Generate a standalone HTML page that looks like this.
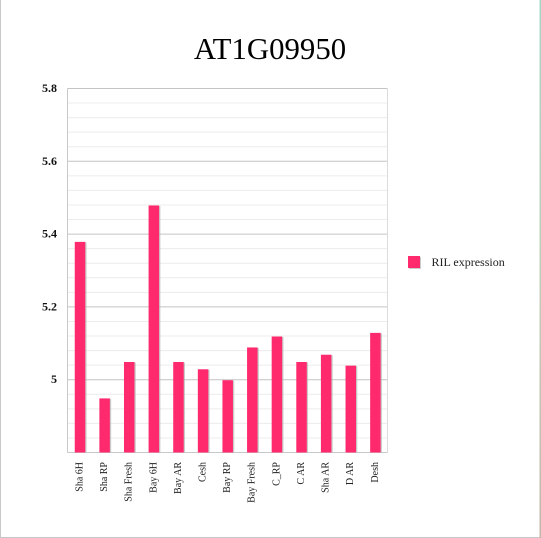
<!DOCTYPE html>
<html>
<head>
<meta charset="utf-8">
<style>
html,body{margin:0;padding:0;background:#fff;}
body{width:541px;height:538px;overflow:hidden;position:relative;}
svg{display:block;position:absolute;left:0;top:0;}
text{font-family:"Liberation Serif",serif;}
</style>
</head>
<body>
<svg id="chart" width="541" height="538" viewBox="0 0 541 538" xmlns="http://www.w3.org/2000/svg">
<defs>
<linearGradient id="edge" x1="0" y1="0" x2="0" y2="1">
<stop offset="0" stop-color="#a5d8c8"/>
<stop offset="0.5" stop-color="#c0d0b8"/>
<stop offset="1" stop-color="#c0b8a8"/>
</linearGradient>
</defs>
<rect x="0" y="0" width="541" height="538" fill="#fff"/>
<rect x="0" y="0" width="1" height="538" fill="#c8c8c8"/>
<rect x="0" y="537" width="540" height="1" fill="#c8c8c8"/>
<rect x="539.5" y="0" width="1.5" height="538" fill="url(#edge)"/>
<text x="270" y="59" font-size="30.8" text-anchor="middle" fill="#000">AT1G09950</text>
<g id="grid"></g>
<g id="bars"></g>
<g id="yticks"></g>
<g id="xticks"></g>
<rect x="409" y="257" width="12" height="12" fill="#bdbdbd" opacity="0.8"/>
<rect x="408" y="256" width="12" height="12" fill="#ff2a6d"/>
<text x="431.5" y="266" font-size="12" fill="#222">RIL expression</text>
</svg>
<script>
const categories = ["Sha 6H","Sha RP","Sha Fresh","Bay 6H","Bay AR","Cesh","Bay RP","Bay Fresh","C_RP","C AR","Sha AR","D AR","Desh"];
const seriesValues = [5.38,4.95,5.05,5.48,5.05,5.03,5.0,5.09,5.12,5.05,5.07,5.04,5.13];
const majorTicks = [5.8,5.6,5.4,5.2,5.0];
const majorLabels = ["5.8","5.6","5.4","5.2","5"];
const minorTicks = [5.76,5.72,5.68,5.64,5.56,5.52,5.48,5.44,5.36,5.32,5.28,5.24,5.16,5.12,5.08,5.04,4.96,4.92,4.88,4.84];

const NS = "http://www.w3.org/2000/svg";
const plot = {left: 67.5, right: 387.5, top: 88.5, bottom: 452.5};
const yMin = 4.8, yMax = 5.8;
function yScale(v){ return plot.bottom - (v - yMin) / (yMax - yMin) * (plot.bottom - plot.top); }
function xBand(i){ return plot.left + (plot.right - plot.left) * (i + 0.5) / categories.length; }
function mk(tag, attrs, parent){
  const el = document.createElementNS(NS, tag);
  for (const k in attrs) el.setAttribute(k, attrs[k]);
  parent.appendChild(el);
  return el;
}
const grid = document.getElementById("grid");
const bars = document.getElementById("bars");
const yt = document.getElementById("yticks");
const xt = document.getElementById("xticks");

minorTicks.forEach(function(v){
  const y = yScale(v);
  const l = mk("line", {x1: plot.left, x2: plot.right, y1: y, y2: y, stroke: "#ececec", "stroke-width": 1}, grid);
  
  
});
majorTicks.forEach(function(v, i){
  const y = yScale(v);
  const l = mk("line", {x1: plot.left, x2: plot.right, y1: y, y2: y, stroke: "#c4c4c4", "stroke-width": 1}, grid);
  
  
  const t = mk("text", {x: 57, y: y + 3.5, "text-anchor": "end", "font-size": 12, "font-weight": "bold", fill: "#111"}, yt);
  
  
  t.textContent = majorLabels[i];
});
const frameL = mk("line", {x1: plot.left, x2: plot.left, y1: plot.top, y2: plot.bottom, stroke: "#c8c8c8", "stroke-width": 1}, grid);


const frameR = mk("line", {x1: plot.right, x2: plot.right, y1: plot.top, y2: plot.bottom, stroke: "#dcdcdc", "stroke-width": 1}, grid);


const frameB = mk("line", {x1: plot.left, x2: plot.right, y1: plot.bottom, y2: plot.bottom, stroke: "#c8c8c8", "stroke-width": 1}, grid);



const barW = 10.5;
seriesValues.forEach(function(v, i){
  const cx = xBand(i), y = yScale(v) + 0.5, h = plot.bottom - y;
  const s = mk("rect", {x: cx - barW / 2 + 1.5, y: y + 0.5, width: barW, height: h - 0.5, fill: "#b4b4b4", opacity: 0.7}, bars);
  
  
  const b = mk("rect", {x: cx - barW / 2 + 0.2, y: y, width: barW, height: h, fill: "#ff2a6d"}, bars);
  
  
  const t = mk("text", {transform: "translate(" + (cx + 2.6) + ",462) rotate(-90)", "text-anchor": "end", "font-size": 10, fill: "#222"}, xt);
  
  
  t.textContent = categories[i];
});
</script>
</body>
</html>
